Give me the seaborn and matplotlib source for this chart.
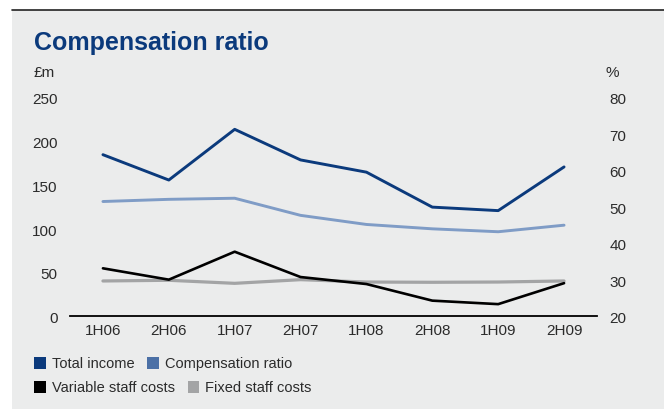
import matplotlib
matplotlib.use("Agg")
import matplotlib.pyplot as plt
from matplotlib.patches import Rectangle, Patch
from matplotlib.lines import Line2D
import matplotlib.transforms as mtransforms
import seaborn as sns
import pandas as pd

periods = ["1H06", "2H06", "1H07", "2H07", "1H08", "2H08", "1H09", "2H09"]
total_income = [184, 155, 213, 178, 164, 124, 120, 170]
variable_staff_costs = [54, 41, 73, 44, 36, 17, 13, 37]
fixed_staff_costs = [39.5, 40.3, 36.8, 41, 38.3, 38, 38.3, 39.5]
compensation_ratio = [51.3, 51.9, 52.2, 47.5, 45.0, 43.8, 43.0, 44.8]

left_ticks = [0, 50, 100, 150, 200, 250]
right_ticks = [20, 30, 40, 50, 60, 70, 80]

NAVY = "#0b3a7c"
LIGHT_BLUE = "#7f9cc6"
LEGEND_BLUE = "#4b70a6"
BLACK = "#000000"
GREY = "#a3a4a5"
PANEL = "#ebecec"
TEXT = "#2b2b2b"

sns.set_theme(style="white")
plt.rcParams["font.family"] = ["Liberation Sans", "DejaVu Sans"]

W, H = 664, 409
fig = plt.figure(figsize=(W / 100, H / 100), dpi=100)
fig.patch.set_facecolor("white")

# grey panel with dark rule along its top edge
fig.add_artist(Rectangle((12 / W, 0), 1 - 12 / W, (H - 10) / H,
                         transform=fig.transFigure, facecolor=PANEL,
                         edgecolor="none", zorder=0))
fig.add_artist(Line2D([12 / W, 1], [(H - 9.5) / H] * 2, transform=fig.transFigure,
                      color="#222222", lw=1.2, zorder=1))

ax = fig.add_axes([70 / W, (H - 315.5) / H, 527 / W, (315.5 - 97) / H])
ax.set_facecolor("none")
ax2 = ax.twinx()
ax2.set_facecolor("none")

df = pd.DataFrame({
    "x": range(len(periods)),
    "total": total_income,
    "variable": variable_staff_costs,
    "fixed": fixed_staff_costs,
    "ratio": compensation_ratio,
})

sns.lineplot(data=df, x="x", y="fixed", ax=ax, color=GREY, lw=2.3)
sns.lineplot(data=df, x="x", y="variable", ax=ax, color=BLACK, lw=1.9)
sns.lineplot(data=df, x="x", y="total", ax=ax, color=NAVY, lw=2.1)
sns.lineplot(data=df, x="x", y="ratio", ax=ax2, color=LIGHT_BLUE, lw=2.1)

ax.set_xlim(-0.5, 7.5)
ax.set_ylim(0, 250)
ax2.set_ylim(20, 80)

ax.set_xticks(range(len(periods)))
ax.set_xticklabels(periods)
ax.set_yticks(left_ticks)
ax.set_yticklabels([str(t) for t in left_ticks])
ax2.set_yticks(right_ticks)
ax2.set_yticklabels([str(t) for t in right_ticks])

for a in (ax, ax2):
    a.set_xlabel("")
    a.set_ylabel("")
    for side in ("top", "left", "right", "bottom"):
        a.spines[side].set_visible(False)
    a.grid(False)

ax.spines["bottom"].set_visible(True)
ax.spines["bottom"].set_color(BLACK)
ax.spines["bottom"].set_linewidth(1.3)

ax.tick_params(axis="x", length=0, pad=6, labelsize=11, labelcolor=TEXT)
ax.tick_params(axis="y", length=0, pad=9, labelsize=11, labelcolor=TEXT)
ax2.tick_params(axis="y", length=0, pad=9, labelsize=11, labelcolor=TEXT)

# nudge value labels slightly below their tick positions
shift = mtransforms.ScaledTranslation(0, -2 / 100, fig.dpi_scale_trans)
for lab in ax.get_yticklabels() + ax2.get_yticklabels():
    lab.set_transform(lab.get_transform() + shift)

# title and unit captions
fig.text(34 / W, (H - 50) / H, "Compensation ratio", fontsize=18,
         fontweight="bold", color=NAVY, va="baseline", ha="left")
fig.text(34 / W, (H - 73) / H, "£m", fontsize=11, color=TEXT, va="center", ha="left")
fig.text(606 / W, (H - 73) / H, "%", fontsize=11, color=TEXT, va="center", ha="left")

# two-row legend
def sq(c):
    return Patch(facecolor=c, edgecolor="none")

leg_kw = dict(frameon=False, fontsize=10.5, handlelength=0.8, handleheight=0.8,
              handletextpad=0.4, columnspacing=0.9, ncol=2, loc="center left",
              borderaxespad=0, borderpad=0, labelcolor=TEXT)
fig.legend([sq(NAVY), sq(LEGEND_BLUE)], ["Total income", "Compensation ratio"],
           bbox_to_anchor=(34 / W, (H - 364) / H), **leg_kw)
fig.legend([sq(BLACK), sq(GREY)], ["Variable staff costs", "Fixed staff costs"],
           bbox_to_anchor=(34 / W, (H - 388) / H), **leg_kw)

fig.savefig("out.png", dpi=100, facecolor=fig.get_facecolor())
